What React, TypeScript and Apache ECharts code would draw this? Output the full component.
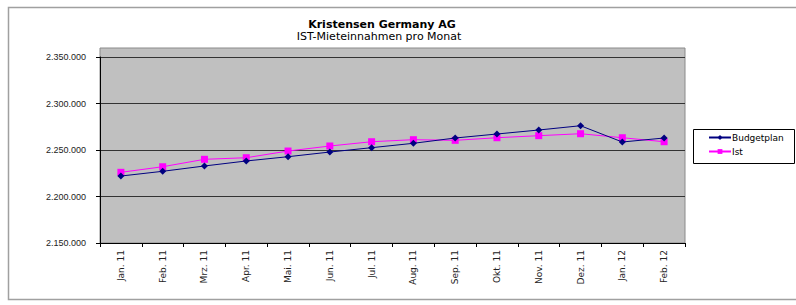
import React, { useEffect, useRef } from "react";
import * as echarts from "echarts";

const categories = [
  "Jan. 11", "Feb. 11", "Mrz. 11", "Apr. 11", "Mai. 11", "Jun. 11", "Jul. 11",
  "Aug. 11", "Sep. 11", "Okt. 11", "Nov. 11", "Dez. 11", "Jan. 12", "Feb. 12",
];
const budgetplan = [
  2222000, 2227100, 2232800, 2238200, 2242800, 2247800, 2252500,
  2257200, 2262900, 2267200, 2271500, 2276100, 2258600, 2262900,
];
const ist = [
  2226000, 2232000, 2240000, 2241700, 2248900, 2254300, 2258900,
  2261100, 2260400, 2263200, 2265400, 2267500, 2263200, 2258900,
];
const yMin = 2150000;
const yMax = 2350000;
const yStep = 50000;

const title = "Kristensen Germany AG";
const subtitle = "IST-Mieteinnahmen pro Monat";

const FONT = "Liberation Sans";
const WIDE = "DejaVu Sans";

function fmt(v: number): string {
  return Math.round(v).toString().replace(/\B(?=(\d{3})+(?!\d))/g, ".");
}

export default function App() {
  const ref = useRef<HTMLDivElement>(null);
  useEffect(() => {
    if (!ref.current) return;
    const chart = echarts.init(ref.current, undefined, { renderer: "svg" });
    chart.setOption({
      animation: false,
      backgroundColor: "#ffffff",
      textStyle: { fontFamily: FONT },
      title: [
        {
          text: title,
          left: 377,
          top: 14,
          textAlign: "center",
          textStyle: { fontSize: 11, fontWeight: "bold", color: "#000", fontFamily: WIDE },
        },
        {
          text: subtitle,
          left: 374,
          top: 26,
          textAlign: "center",
          textStyle: { fontSize: 11, fontWeight: "normal", color: "#000", fontFamily: WIDE },
        },
      ],
      graphic: [
        {
          type: "rect",
          z: -10,
          shape: { x: 8.5, y: 7.5, width: 800, height: 292 },
          style: { fill: "#ffffff", stroke: "#a0a0a0", lineWidth: 1.5 },
          silent: true,
        },
        {
          type: "rect",
          z: -5,
          shape: { x: 100, y: 48, width: 585, height: 195 },
          style: { fill: "#c0c0c0", stroke: "#8a8a8a", lineWidth: 1 },
          silent: true,
        },
        {
          type: "rect",
          z: -5,
          shape: { x: 693.5, y: 129.5, width: 101, height: 34 },
          style: { fill: "#ffffff", stroke: "#000", lineWidth: 1 },
          silent: true,
        },
      ],
      legend: {
        left: 708,
        top: 133,
        orient: "vertical",
        padding: 0,
        itemGap: 5,
        itemWidth: 22,
        itemHeight: 6,
        textStyle: { fontSize: 9, color: "#000", fontFamily: WIDE, padding: [0, 0, 0, -4] },
        data: ["Budgetplan", "Ist"],
      },
      grid: { left: 100, right: 111, top: 57, bottom: 62, containLabel: false },
      xAxis: {
        type: "category",
        data: categories,
        boundaryGap: true,
        axisLine: { lineStyle: { color: "#000", width: 1 } },
        axisTick: { show: true, length: 4, alignWithLabel: false, lineStyle: { color: "#000" } },
        axisLabel: {
          rotate: 90,
          fontSize: 9,
          color: "#222",
          margin: 7,
          fontFamily: WIDE,
          interval: 0,
        },
        splitLine: { show: false },
      },
      yAxis: {
        type: "value",
        min: yMin,
        max: yMax,
        interval: yStep,
        axisLine: { show: true, lineStyle: { color: "#000", width: 1 } },
        axisTick: { show: true, length: 4, lineStyle: { color: "#000" } },
        axisLabel: {
          fontSize: 9,
          color: "#222",
          margin: 14,
          fontFamily: FONT,
          formatter: (v: number) => fmt(v),
        },
        splitLine: { show: true, lineStyle: { color: "#333", width: 1 } },
      },
      series: [
        {
          name: "Budgetplan",
          type: "line",
          data: budgetplan,
          color: "#000080",
          symbol: "diamond",
          symbolSize: 7,
          lineStyle: { color: "#000080", width: 1 },
          itemStyle: { color: "#000080" },
          z: 3,
        },
        {
          name: "Ist",
          type: "line",
          data: ist,
          color: "#ff00ff",
          symbol: "rect",
          symbolSize: 7,
          lineStyle: { color: "#ff00ff", width: 1 },
          itemStyle: { color: "#ff00ff" },
          z: 2,
        },
      ],
    });
    return () => chart.dispose();
  }, []);
  return (
    <div
      ref={ref}
      style={{ position: "fixed", left: 0, top: 0, width: 796, height: 305 }}
    />
  );
}
